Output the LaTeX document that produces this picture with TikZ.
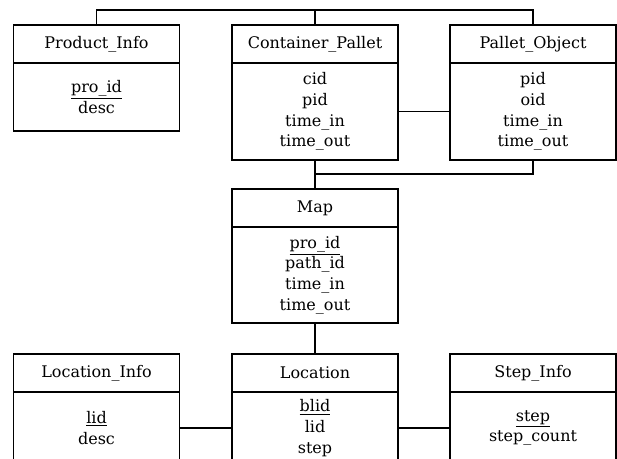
\documentclass[tikz,border=0pt]{standalone}
\usepackage{fontspec}
\setmainfont{DejaVu Serif}
\usetikzlibrary{positioning}

\tikzset{
  tblhead/.style={draw, line width=1.3pt, outer sep=0pt, inner sep=0pt,
    minimum width=124.5pt, minimum height=28.5pt, align=center,
    font=\fontsize{12}{15.5}\selectfont},
  tblbody/.style={tblhead, minimum height=#1},
  link/.style={line width=1.2pt},
  thinlink/.style={line width=0.9pt}
}

\begin{document}
\begin{tikzpicture}[x=0.75pt,y=0.75pt,yscale=-1,xscale=1]
\clip (0,0) rectangle (617,459);

%Shape: Table [Product_Info]
\node [tblhead, anchor=north] (prodH) at (96.5,25) {Product\_Info};
\node [tblbody=51pt, below=0pt of prodH] (prodB) {\underline{pro\_id}\\desc};

%Shape: Table [Container_Pallet]
\node [tblhead, anchor=north] (contH) at (315,25) {Container\_Pallet};
\node [tblbody=72.75pt, below=0pt of contH] (contB) {cid\\pid\\time\_in\\time\_out};

%Shape: Table [Pallet_Object]
\node [tblhead, anchor=north] (palH) at (533,25) {Pallet\_Object};
\node [tblbody=72.75pt, below=0pt of palH] (palB) {pid\\oid\\time\_in\\time\_out};

%Shape: Table [Map]
\node [tblhead, anchor=north] (mapH) at (315,189) {Map};
\node [tblbody=72pt, below=0pt of mapH] (mapB) {\underline{pro\_id}\\path\_id\\time\_in\\time\_out};

%Shape: Table [Location_Info]
\node [tblhead, anchor=north] (linfH) at (96.5,354) {Location\_Info};
\node [tblbody=54pt, below=0pt of linfH] (linfB) {\underline{lid}\\desc};

%Shape: Table [Location]
\node [tblhead, anchor=north] (locH) at (315,354) {Location};
\node [tblbody=54pt, below=0pt of locH] (locB) {\underline{blid}\\lid\\step};

%Shape: Table [Step_Info]
\node [tblhead, anchor=north] (stepH) at (533,354) {Step\_Info};
\node [tblbody=54pt, below=0pt of stepH] (stepB) {\underline{step}\\step\_count};

%Straight Lines [top bar]
\coordinate (topbar) at (315,10);
\draw [link] (prodH.north) |- (topbar) -| (palH.north);
\draw [link] (contH.north) -- (topbar);

%Straight Lines [pallet links]
\draw [link] (contB.east) -- (palB.west);
\draw [link] (contB.south) -- (mapH.north);
\coordinate (join) at (315,174);
\draw [thinlink] (palB.south) |- (join);

%Straight Lines [location links]
\draw [link] (mapB.south) -- (locH.north);
\draw [link] (linfB.east) -- (locB.west);
\draw [link] (locB.east) -- (stepB.west);

\end{tikzpicture}
\end{document}
